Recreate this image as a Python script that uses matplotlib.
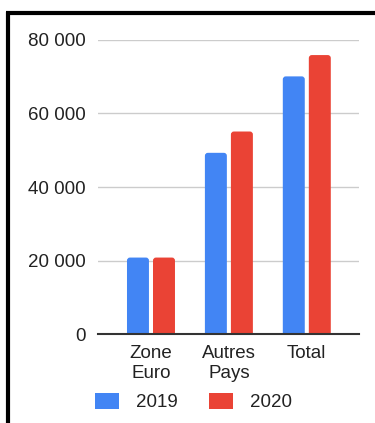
import matplotlib
matplotlib.use("Agg")
import matplotlib.pyplot as plt
from matplotlib.patches import FancyBboxPatch, Patch
from matplotlib.lines import Line2D
import numpy as np

plt.rcParams['font.family'] = ['Liberation Sans', 'DejaVu Sans']

categories = ["Zone\nEuro", "Autres\nPays", "Total"]
years = ["2019", "2020"]
values_2019 = [20800, 49300, 70100]
values_2020 = [20800, 55100, 75900]
yticks = [0, 20000, 40000, 60000, 80000]

blue = "#4285F4"
red = "#EA4335"
fs = 13.5

fig = plt.figure(figsize=(3.75, 4.23), dpi=100)
ax = fig.add_axes([98 / 375, 1 - 334 / 423, 261 / 375, (334 - 40) / 423])

x = np.arange(len(categories))
width = 0.282
offset = 0.167
# rounded corners: radius in x units, aspect converts to y units
px_x = 1 / 78
px_y = 20000 / 73.5
for series, color, sign in [(values_2019, blue, -1), (values_2020, red, 1)]:
    for xi, v in zip(x, series):
        left = xi + sign * offset - width / 2
        p = FancyBboxPatch((left, -5000), width, v + 5000,
                           boxstyle="round,pad=0,rounding_size=%f" % (3 * px_x),
                           mutation_aspect=px_y / px_x,
                           facecolor=color, edgecolor="none", zorder=3)
        ax.add_patch(p)

ax.set_xlim(-0.68, 2.67)
ax.set_ylim(0, 80000)
ax.set_yticks(yticks)
ax.set_yticklabels([f"{t:,}".replace(",", " ") for t in yticks], fontsize=fs)
ax.set_xticks(x)
ax.set_xticklabels(categories, fontsize=fs, linespacing=1.25)
ax.tick_params(axis="both", colors="#222222", labelcolor="#222222")
ax.tick_params(axis="y", length=0, pad=8.6)
ax.tick_params(axis="x", length=0, pad=8)
ax.grid(axis="y", color="#cccccc", linewidth=1, zorder=0)
for s in ["top", "right", "left"]:
    ax.spines[s].set_visible(False)
ax.spines["bottom"].set_color("#333333")
ax.spines["bottom"].set_linewidth(1.5)
ax.spines["bottom"].set_zorder(5)

handles = [Patch(facecolor=blue, edgecolor="none"), Patch(facecolor=red, edgecolor="none")]
leg = fig.legend(handles, years, loc="center", bbox_to_anchor=(0.516, 1 - 402 / 423),
                 ncol=2, frameon=False, fontsize=fs, handlelength=1.28, handleheight=1.01,
                 handletextpad=0.9, columnspacing=1.7)
for t in leg.get_texts():
    t.set_color("#222222")

# frame lines along the top and left edge
fig.add_artist(Line2D([6 / 375, 1.0], [1 - 13.5 / 423] * 2, color="black", linewidth=3,
                      solid_capstyle="butt", transform=fig.transFigure))
fig.add_artist(Line2D([8 / 375] * 2, [0, 1 - 12 / 423], color="black", linewidth=3,
                      solid_capstyle="butt", transform=fig.transFigure))

fig.savefig("out.png", dpi=100)
